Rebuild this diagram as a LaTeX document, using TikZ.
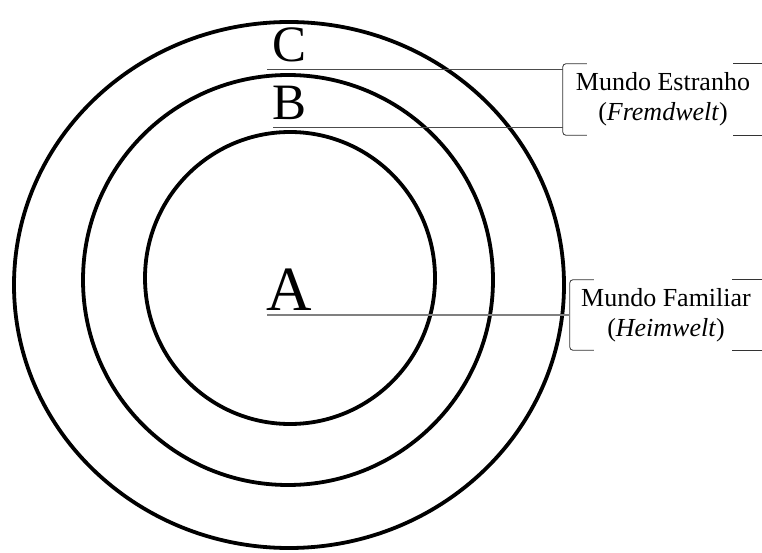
\documentclass[tikz,border=0pt]{standalone}
\usepackage{fontspec}
\setmainfont{Liberation Serif}
\usetikzlibrary{positioning,calc}

\begin{document}
\begin{tikzpicture}[
  x=1pt, y=-1pt,
  ring/.style={line width=3.8pt},
  leader/.style={gray!60!black, line width=0.9pt},
  brk/.style={gray!40!black, line width=0.8pt, rounded corners=3pt},
  worldbox/.style={minimum width=#1, minimum height=71pt, inner sep=0pt, align=center, font=\fontsize{26}{30}\selectfont},
  letter/.style={anchor=base, inner sep=0pt, font=\fontsize{#1}{#1}\selectfont},
]
\useasboundingbox (0,0) rectangle (762,553);

% Rings
\draw[ring] (289,285) ellipse [x radius=275pt, y radius=263pt];
\draw[ring] (288,280) circle [radius=205pt];
\draw[ring] (290,278) ellipse [x radius=145pt, y radius=146pt];

% Letters
\node[letter=51] (labC) at (290,62) {C};
\node[letter=51] (labB) at (290,120) {B};
\node[letter=63] (labA) at (289,310) {A};

% Label boxes
\node[worldbox=200pt] (estranho) at (663,99.5) {Mundo Estranho\\(\textit{Fremdwelt})};
\node[worldbox=192pt, minimum height=70pt] (familiar) at (666,315) {Mundo Familiar\\(\textit{Heimwelt})};

\foreach \b in {estranho, familiar} {
  \draw[brk] ($(\b.north west)+(24,0)$) -- (\b.north west) -- (\b.south west) -- ++(24,0);
  \draw[brk] ($(\b.north east)+(-30,0)$) -- (\b.north east);
  \draw[brk] ($(\b.south east)+(-30,0)$) -- (\b.south east);
}

% Leader lines
\coordinate (cStart) at (267,69);
\coordinate (bStart) at (273,127);
\coordinate (aStart) at (267,315);
\draw[leader] (cStart) -- (cStart -| estranho.west);
\draw[leader] (bStart) -- (bStart -| estranho.west);
\draw[leader, gray, line width=1.2pt] (aStart) -- (aStart -| familiar.west);
\end{tikzpicture}
\end{document}
